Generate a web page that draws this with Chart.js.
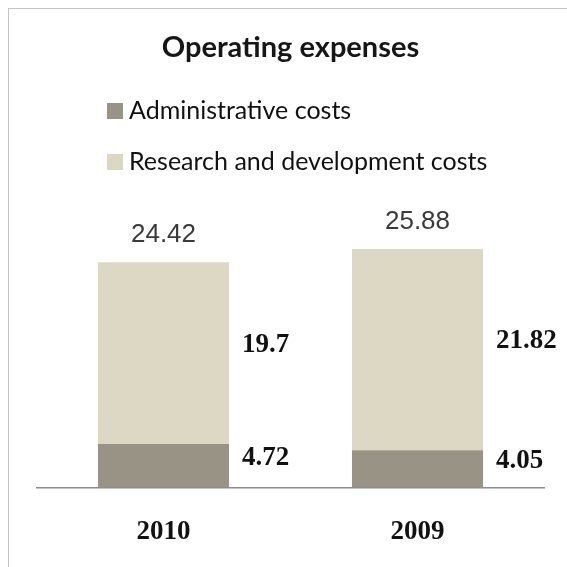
<!DOCTYPE html>
<html>
<head>
<meta charset="utf-8">
<script src="https://cdn.jsdelivr.net/npm/chart.js@4"></script>
<style>
  html, body { margin: 0; padding: 0; background: #fff; }
  #wrap { position: relative; width: 567px; height: 567px; overflow: hidden; }
  #frame { position: absolute; left: 8px; top: 8px; width: 600px; height: 600px;
           border: 1px solid #c4c4c4; pointer-events: none; }
</style>
</head>
<body>
<div id="wrap">
  <canvas id="expenses"></canvas>
  <div id="frame"></div>
</div>
<script>
var years = ["2010", "2009"];
var adminCosts = [4.72, 4.05];
var rdCosts = [19.7, 21.82];
var totals = [24.42, 25.88];

var seriesNames = ["Administrative costs", "Research and development costs"];
var seriesColors = ["#999385", "#DDD8C4"];

// legend stacked in two rows under the title
var legendRows = {
  id: "legendRows",
  afterDraw: function (chart) {
    var ctx = chart.ctx;
    ctx.save();
    ctx.font = "25px Lato";
    ctx.textAlign = "left";
    ctx.textBaseline = "middle";
    chart.data.datasets.forEach(function (ds, i) {
      var y = 111 + i * 51;
      ctx.fillStyle = ds.backgroundColor;
      ctx.fillRect(107, y - 8, 16, 16);
      ctx.fillStyle = "#111";
      ctx.fillText(ds.label, 129, y);
    });
    ctx.restore();
  }
};

// segment values beside each bar, totals on top
var valuePlugin = {
  id: "values",
  afterDatasetsDraw: function (chart) {
    var ctx = chart.ctx;
    ctx.save();
    chart.data.datasets.forEach(function (ds, di) {
      var meta = chart.getDatasetMeta(di);
      meta.data.forEach(function (bar, i) {
        var mid = (bar.y + bar.base) / 2 - 8;
        ctx.font = "bold 27px 'Liberation Serif'";
        ctx.fillStyle = "#111";
        ctx.textAlign = "left";
        ctx.textBaseline = "middle";
        ctx.fillText(String(ds.data[i]), bar.x + bar.width / 2 + 13, mid);
      });
    });
    var topMeta = chart.getDatasetMeta(chart.data.datasets.length - 1);
    topMeta.data.forEach(function (bar, i) {
      ctx.font = "26px 'Liberation Sans'";
      ctx.fillStyle = "#3a3a3a";
      ctx.textAlign = "center";
      ctx.textBaseline = "bottom";
      ctx.fillText(totals[i].toFixed(2), bar.x, bar.y - 14);
    });
    ctx.restore();
  }
};

new Chart("expenses", {
  type: "bar",
  data: {
    labels: years,
    datasets: [
      { label: seriesNames[0], data: adminCosts, backgroundColor: seriesColors[0] },
      { label: seriesNames[1], data: rdCosts, backgroundColor: seriesColors[1] }
    ]
  },
  options: {
    responsive: true,
    maintainAspectRatio: false,
    animation: false,
    layout: { padding: { top: 0, left: 36.5, right: 22.5, bottom: 0 } },
    datasets: { bar: { categoryPercentage: 1, barPercentage: 0.516 } },
    plugins: {
      legend: { display: false },
      title: {
        display: true,
        text: "Operating expenses",
        fullSize: false,
        color: "#161616",
        font: { family: "Lato", size: 29, weight: "bold", lineHeight: 1.2 },
        padding: { top: 30, bottom: 146 }
      },
      tooltip: { enabled: false }
    },
    scales: {
      x: {
        stacked: true,
        grid: { display: false, drawTicks: false },
        border: { display: true, color: "#8c8c8c", width: 1.5 },
        ticks: {
          padding: 28,
          color: "#111",
          font: { family: "Liberation Serif", size: 27, weight: "bold" }
        },
        afterFit: function (scale) { scale.height = 79.5; }
      },
      y: {
        stacked: true,
        display: false,
        min: 0,
        max: 30
      }
    }
  },
  plugins: [legendRows, valuePlugin]
});
</script>
</body>
</html>
